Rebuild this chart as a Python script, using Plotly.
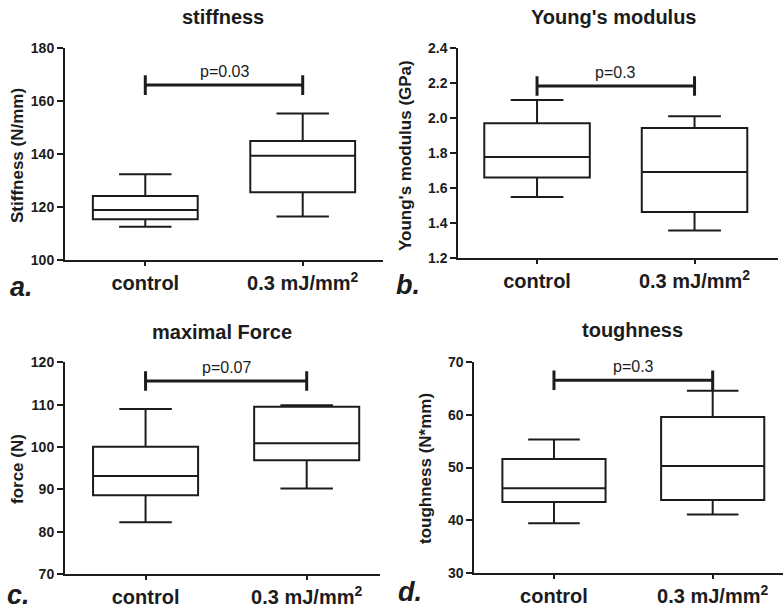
import plotly.graph_objects as go

# ---------------- data ----------------
categories = ["control", "0.3 mJ/mm<sup>2</sup>"]
titles = ["stiffness", "Young's modulus", "maximal Force", "toughness"]
ytitles = ["Stiffness (N/mm)", "Young's modulus (GPa)", "force (N)", "toughness (N*mm)"]
panel_letters = ["a.", "b.", "c.", "d."]
p_texts = ["p=0.03", "p=0.3", "p=0.07", "p=0.3"]

stiff_min = [112.6, 116.4]
stiff_q1 = [115.4, 125.6]
stiff_med = [118.9, 139.4]
stiff_q3 = [124.2, 145.0]
stiff_max = [132.4, 155.4]

young_min = [1.549, 1.358]
young_q1 = [1.660, 1.464]
young_med = [1.777, 1.692]
young_q3 = [1.969, 1.942]
young_max = [2.102, 2.009]

force_min = [82.2, 90.2]
force_q1 = [88.6, 96.85]
force_med = [93.15, 100.9]
force_q3 = [100.08, 109.5]
force_max = [108.98, 109.84]

tough_min = [39.45, 41.1]
tough_q1 = [43.5, 43.86]
tough_med = [46.06, 50.3]
tough_q3 = [51.6, 59.54]
tough_max = [55.3, 64.5]

bracket_y = [166.1, 2.182, 115.6, 66.5]

stiff_ticks = [100, 120, 140, 160, 180]
young_ticks = [1.2, 1.4, 1.6, 1.8, 2.0, 2.2, 2.4]
young_tick_labels = ["1.2", "1.4", "1.6", "1.8", "2.0", "2.2", "2.4"]
force_ticks = [70, 80, 90, 100, 110, 120]
tough_ticks = [30, 40, 50, 60, 70]

y_tickvals = [stiff_ticks, young_ticks, force_ticks, tough_ticks]
y_ticklabels = [[str(v) for v in stiff_ticks], young_tick_labels,
                [str(v) for v in force_ticks], [str(v) for v in tough_ticks]]

# ---------------- layout helpers ----------------
W, H = 783, 613
def px(x):
    return x / W
def py(y):
    return 1 - y / H

# pixel boxes: (x_left, x_right, y_top, y_bottom)
plot_px = [
    (65, 383, 48.3, 260.0),
    (458.3, 778, 47.7, 258.3),
    (65, 380, 362.3, 574.0),
    (474.3, 783, 361.7, 573.3),
]
x_ranges = [[-0.51, 1.51], [-0.5, 1.53], [-0.5, 1.455], [-0.502, 1.443]]
box_widths = [0.666, 0.67, 0.652, 0.65]
title_pos = [(223, 17), (614, 17), (222, 331.5), (632, 330)]
ytitle_pos = [(17, 156), (405, 156), (17, 469), (425, 469)]
letter_pos = [(21, 287), (408, 285), (18, 595), (410, 592)]

stats = [
    (stiff_min, stiff_q1, stiff_med, stiff_q3, stiff_max),
    (young_min, young_q1, young_med, young_q3, young_max),
    (force_min, force_q1, force_med, force_q3, force_max),
    (tough_min, tough_q1, tough_med, tough_q3, tough_max),
]

FONT = "Liberation Sans, Arial, sans-serif"
INK = "#1c1c1c"

fig = go.Figure()
annotations = []
layout_axes = {}

for i in range(4):
    xa = "x" if i == 0 else f"x{i+1}"
    ya = "y" if i == 0 else f"y{i+1}"
    mn, q1, med, q3, mx = stats[i]
    fig.add_trace(go.Box(
        x=[0, 1], q1=q1, median=med, q3=q3, lowerfence=mn, upperfence=mx,
        fillcolor="white", line=dict(color=INK, width=2),
        whiskerwidth=0.5, width=box_widths[i], boxpoints=False,
        showlegend=False, hoverinfo="skip", xaxis=xa, yaxis=ya,
    ))
    # significance bracket
    fig.add_trace(go.Scatter(
        x=[0, 1], y=[bracket_y[i], bracket_y[i]], mode="lines+markers",
        line=dict(color=INK, width=3),
        marker=dict(symbol="line-ns", size=14, line=dict(color=INK, width=3)),
        showlegend=False, hoverinfo="skip", xaxis=xa, yaxis=ya,
    ))
    annotations.append(dict(
        x=0.5, y=bracket_y[i], xref=xa, yref=ya, text=p_texts[i],
        showarrow=False, yanchor="bottom", yshift=3,
        font=dict(family=FONT, size=16, color=INK),
    ))
    xl, xr, yt, yb = plot_px[i]
    key = "" if i == 0 else str(i + 1)
    layout_axes["xaxis" + key] = dict(
        domain=[px(xl), px(xr)], anchor=ya, range=x_ranges[i], automargin=False,
        tickvals=[0, 1], ticktext=["<b>%s</b>" % c for c in categories],
        ticks="outside", ticklen=4,
        tickwidth=1.5, tickcolor=INK, showline=True, linewidth=2, linecolor=INK,
        showgrid=False, zeroline=False, fixedrange=True,
        tickfont=dict(family=FONT, size=20, color=INK),
    )
    layout_axes["yaxis" + key] = dict(
        domain=[py(yb), py(yt)], anchor=xa,
        range=[y_tickvals[i][0], y_tickvals[i][-1]],
        automargin=False,
        tickvals=y_tickvals[i], ticktext=["<b>%s</b>" % t for t in y_ticklabels[i]],
        ticks="outside", ticklen=6, tickwidth=2, tickcolor=INK,
        showline=True, linewidth=2, linecolor=INK, showgrid=False, zeroline=False,
        tickfont=dict(family=FONT, size=14, color=INK),
    )
    tx, ty = title_pos[i]
    annotations.append(dict(
        x=px(tx), y=py(ty), xref="paper", yref="paper", text="<b>%s</b>" % titles[i],
        showarrow=False, xanchor="center", yanchor="middle",
        font=dict(family=FONT, size=20, color=INK),
    ))
    yx, yy = ytitle_pos[i]
    annotations.append(dict(
        x=px(yx), y=py(yy), xref="paper", yref="paper", text="<b>%s</b>" % ytitles[i],
        showarrow=False, textangle=-90, xanchor="center", yanchor="middle",
        font=dict(family=FONT, size=17, color=INK),
    ))
    lx, ly = letter_pos[i]
    annotations.append(dict(
        x=px(lx), y=py(ly), xref="paper", yref="paper",
        text="<b><i>%s</i></b>" % panel_letters[i],
        showarrow=False, xanchor="center", yanchor="middle",
        font=dict(family=FONT, size=27, color=INK),
    ))

fig.update_layout(
    width=W, height=H, margin=dict(l=0, r=0, t=0, b=0),
    paper_bgcolor="white", plot_bgcolor="white",
    annotations=annotations, **layout_axes,
)

fig.write_html(
    "out.html",
    config={"displayModeBar": False},
    post_script="document.body.style.margin='0';document.body.style.padding='0';",
)
